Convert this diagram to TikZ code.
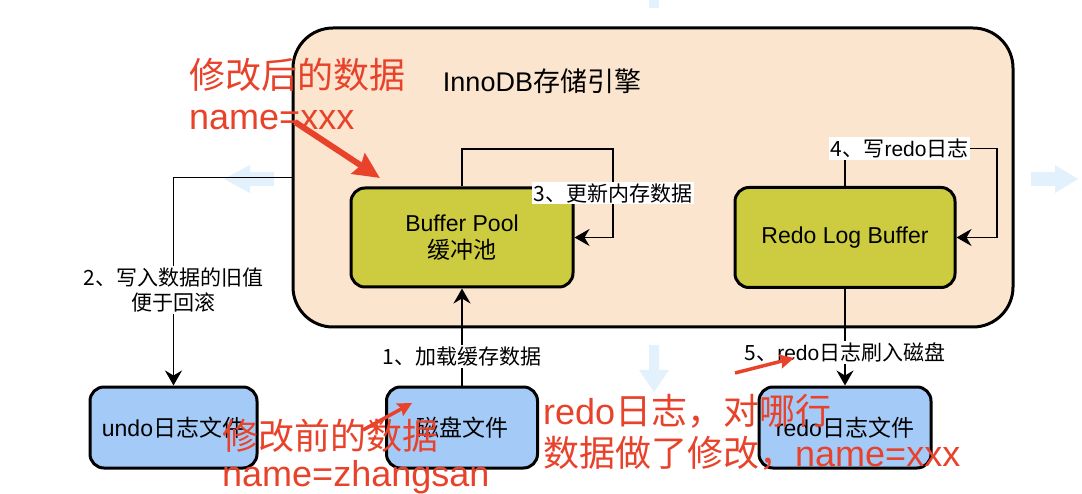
\documentclass[tikz,border=0pt]{standalone}
\usepackage{fontspec}
\setmainfont{Liberation Sans}
\newfontfamily\zh{Noto Sans CJK SC}
\usepackage{xcolor}
\usetikzlibrary{arrows.meta}

\definecolor{engineFill}{RGB}{251,229,207}
\definecolor{poolFill}{RGB}{205,204,64}
\definecolor{fileFill}{RGB}{164,203,248}
\definecolor{markRed}{RGB}{233,66,43}
\definecolor{hintBlue}{RGB}{226,241,251}

\tikzset{
    box/.style = {draw, line width=3pt, rounded corners=14pt, align=center,
                  font=\fontsize{23}{27}\selectfont},
    lbl/.style = {fill=white, inner sep=1.5pt, align=center,
                  font=\fontsize{21}{25}\selectfont},
    arr/.style = {line width=1.6pt, -{Stealth[length=15pt,width=17pt,inset=5pt]}},
    redtxt/.style = {text=markRed, inner sep=0pt, anchor=base west,
                     font=\fontsize{36}{41}\selectfont},
    redarrow/.style = {draw=markRed, line width=3.5pt,
                       -{Stealth[length=14pt,width=14pt,inset=2pt]}}
}

\begin{document}
\begin{tikzpicture}[x=1pt, y=-1pt]
    \useasboundingbox (0, 0) rectangle (1082, 494);
    \fill[white] (0, 0) rectangle (1082, 494);

    \fill[hintBlue] (274, 172) -- (250, 172) -- (250, 165) -- (224, 179)
        -- (250, 193) -- (250, 186) -- (274, 186) -- cycle;
    \fill[hintBlue] (1031, 172) -- (1055, 172) -- (1055, 165) -- (1078, 179)
        -- (1055, 193) -- (1055, 186) -- (1031, 186) -- cycle;
    \fill[hintBlue] (649, 345) -- (649, 370) -- (639, 370) -- (654, 392)
        -- (669, 370) -- (659, 370) -- (659, 345) -- cycle;
    \fill[hintBlue] (649, 0) rectangle (659, 8);

    \node[draw, line width=3pt, fill=engineFill, rounded corners=40pt,
          minimum width=720pt, minimum height=299pt] (engine) at (653, 177.5) {};
    \node[font=\fontsize{27}{31}\selectfont] (title) at (542, 81) {InnoDB{\zh 存储引擎}};

    \node[box, fill=poolFill, minimum width=222pt, minimum height=99pt] (pool)
        at (462, 237.5) {Buffer Pool\\{\zh 缓冲池}};
    \node[box, fill=poolFill, minimum width=220pt, minimum height=100pt] (redobuf)
        at (845, 237.5) {Redo Log Buffer};

    \node[box, fill=fileFill, minimum width=167pt, minimum height=81pt] (undo)
        at (173.5, 427.5) {undo{\zh 日志文件}};
    \node[box, fill=fileFill, minimum width=151pt, minimum height=81pt] (disk)
        at (462, 427.5) {\zh 磁盘文件};
    \node[box, fill=fileFill, minimum width=172pt, minimum height=81pt] (redofile)
        at (845, 427.5) {redo{\zh 日志文件}};

    \draw[arr] (disk.north) -- node[lbl, pos=0.3] {\zh 1、加载缓存数据} (pool.south);
    \draw[arr] (engine.west) -| node[lbl, pos=0.77] {{\zh 2、写入数据的旧值}\\{\zh 便于回滚}} (undo.north);
    \draw[arr] (pool.north) |- ++(151, -37.5) |- node[lbl, pos=0.25] {\zh 3、更新内存数据} (pool.east);
    \draw[arr] (redobuf.north) |- node[lbl, pos=0.68] {{\zh 4、写}redo{\zh 日志}} ++(152, -37.5)
        |- (redobuf.east);
    \draw[arr] (redobuf.south) -- node[lbl, pos=0.66] {{\zh 5、}redo{\zh 日志刷入磁盘}} (redofile.north);

    \node[redtxt] (after1) at (189, 89) {\zh 修改后的数据};
    \node[redtxt] (after2) at (189, 130) {name=xxx};
    \node[redtxt] (before1) at (222, 449) {\zh 修改前的数据};
    \node[redtxt] (before2) at (222, 486) {name=zhangsan};
    \node[redtxt] (note1) at (543, 424) {redo{\zh 日志，对哪行}};
    \node[redtxt] (note2) at (543, 466) {{\zh 数据做了修改，}name=xxx};

    \coordinate (m1s) at (295, 122);
    \coordinate (m1e) at (380, 178);
    \coordinate (m2s) at (363, 430);
    \coordinate (m2e) at (412, 403);
    \coordinate (m3s) at (735, 373);
    \coordinate (m3e) at (794, 358);
    \draw[redarrow, line width=6pt, -{Stealth[length=26pt,width=24pt,inset=3pt]}] (m1s) -- (m1e);
    \draw[redarrow] (m2s) -- (m2e);
    \draw[redarrow] (m3s) -- (m3e);
\end{tikzpicture}
\end{document}
